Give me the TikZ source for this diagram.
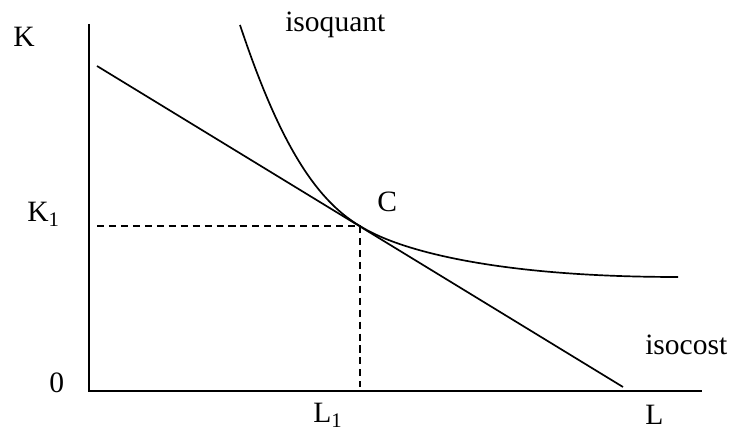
\documentclass[tikz,border=0pt]{standalone}
\usepackage{fontspec}
\setmainfont{Liberation Serif}
\usetikzlibrary{positioning}

\begin{document}
\begin{tikzpicture}[
  x=0.025cm, y=0.025cm,
  font=\fontsize{21}{25}\selectfont,
  axis/.style  = {line width=1.2pt},
  curve/.style = {line width=1.2pt},
  guide/.style = {line width=0.8pt, dash pattern=on 5pt off 3.5pt},
  lbl/.style   = {inner sep=0pt, anchor=base west}
]
\useasboundingbox (0,0) rectangle (731,432);

% ---------- points --------------------------------------------------------
\coordinate (O)     at (89,41);
\coordinate (ytop)  at (89,408);
\coordinate (xend)  at (702,41);
\coordinate (C)     at (360,206);
\coordinate (costA) at (97,366);
\coordinate (costB) at (623,45);
\coordinate (qS)    at (240,407);
\coordinate (qE)    at (678,155);

% ---------- axes ----------------------------------------------------------
\draw[axis] (ytop) -- (O) -- (xend);

% ---------- isocost and isoquant ------------------------------------------
\draw[curve] (costA) -- (costB);
\draw[curve] (qS) .. controls (277.7,293.8) and (313.7,233.2) .. (C)
                  .. controls (400,180.6) and (500,155) .. (qE);

% ---------- the optimum ---------------------------------------------------
\draw[guide] (C -| costA) -- (C) -- (C |- costB);

% ---------- labels --------------------------------------------------------
\node[lbl] (lK)     at (13,385)  {K};
\node[lbl] (lK1)    at (27,210)  {K\textsubscript{1}};
\node[lbl] (l0)     at (49,39)   {0};
\node[lbl] (lC)     at (377,220) {C};
\node[lbl] (lL1)    at (313,9)   {L\textsubscript{1}};
\node[lbl] (lL)     at (645,7)   {L};
\node[lbl] (lquant) at (285,400) {isoquant};
\node[lbl] (lcost)  at (645,77)  {isocost};

\end{tikzpicture}
\end{document}
